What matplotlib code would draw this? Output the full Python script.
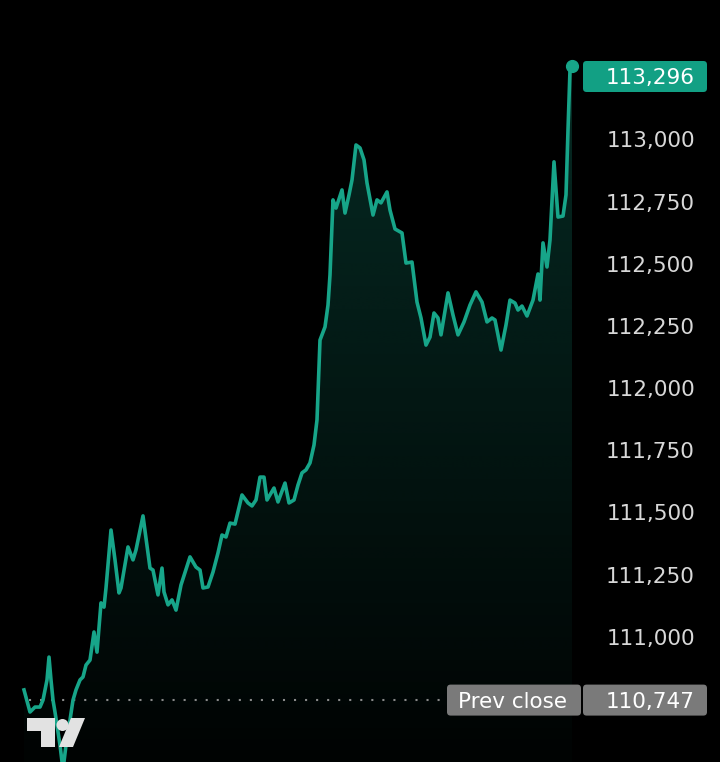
import numpy as np
import matplotlib
matplotlib.use('Agg')
import matplotlib.pyplot as plt
from matplotlib.patches import Polygon, Ellipse, FancyBboxPatch
from matplotlib.transforms import blended_transform_factory

# minutes since session start (arbitrary ticks) and price
t = [0, 6, 11, 16, 19, 23, 25, 27, 29, 31, 36, 39, 42, 46, 49, 52, 56, 59, 62, 66,
     70, 73, 77, 80, 82, 87, 91, 95, 97, 104, 109, 112, 119, 126, 129, 134, 138, 140, 144, 148,
     152, 157, 166, 172, 176, 179, 184, 189, 194, 198, 202, 206, 211, 218, 224, 228, 232, 236, 240, 243,
     250, 254, 261, 265, 270, 274, 278, 282, 286, 290, 293, 296, 301, 304, 306, 309, 312, 318, 321, 325,
     328, 332, 336, 340, 343, 349, 353, 357, 363, 366, 371, 378, 382, 388, 393, 397, 402, 406, 410, 414,
     417, 424, 429, 434, 440, 446, 452, 458, 463, 468, 471, 477, 482, 486, 491, 494, 498, 503, 509, 514,
     516, 519, 523, 526, 530, 534, 539, 542, 544, 546, 548]
price = [110788, 110699, 110719, 110719, 110747, 110828, 110920, 110828, 110747, 110699,
         110566, 110466, 110566, 110667, 110747, 110788, 110828, 110840, 110888, 110908,
         111021, 110940, 111138, 111121, 111198, 111431, 111311, 111178, 111198, 111363,
         111311, 111351, 111488, 111278, 111270, 111170, 111278, 111182, 111130, 111150,
         111109, 111210, 111323, 111282, 111270, 111198, 111202, 111262, 111339, 111411,
         111403, 111459, 111455, 111572, 111540, 111528, 111552, 111644, 111644, 111552,
         111600, 111544, 111620, 111540, 111552, 111612, 111661, 111673, 111701, 111773,
         111874, 112195, 112248, 112336, 112457, 112759, 112726, 112799, 112706, 112779,
         112839, 112980, 112968, 112920, 112827, 112698, 112759, 112747, 112791, 112718,
         112642, 112626, 112505, 112509, 112348, 112284, 112175, 112207, 112304, 112284,
         112216, 112385, 112296, 112216, 112268, 112336, 112389, 112348, 112268, 112284,
         112276, 112155, 112256, 112356, 112344, 112316, 112332, 112292, 112356, 112461,
         112356, 112586, 112489, 112598, 112912, 112690, 112694, 112779, 113040, 113282,
         113296]
prev_close = 110747
tick_values = [111000, 111250, 111500, 111750, 112000, 112250, 112500, 112750, 113000]

teal = '#17a589'
bg = 'black'
plt.rcParams['font.family'] = ['DejaVu Sans']
fs = 15.5

fig = plt.figure(figsize=(7.2, 7.62), dpi=100, facecolor=bg)
ax = fig.add_axes([0, 0, 1, 1])
ax.set_facecolor(bg)
ax.axis('off')

xmin, xmax = -24, 696
ymin, ymax = 110498, 113563
px_y = (ymax - ymin) / 762
txt_off = -1.5 * px_y

# gradient fill under the line
verts = [(t[0], ymin)] + list(zip(t, price)) + [(t[-1], ymin)]
clip = Polygon(verts, closed=True, facecolor='none', edgecolor='none')
ax.add_patch(clip)
grad = np.zeros((256, 1, 4))
grad[..., :3] = matplotlib.colors.to_rgb(teal)
grad[:, 0, 3] = np.linspace(0.02, 0.26, 256)
im = ax.imshow(grad, extent=[t[0], t[-1], ymin, max(price)], origin='lower',
               aspect='auto', zorder=1, interpolation='bilinear')
im.set_clip_path(clip)

ax.plot(t, price, color=teal, lw=2.6, zorder=3, solid_joinstyle='round')
ax.plot(t[-1], price[-1], 'o', ms=8.5, color=teal, zorder=4)

ax.set_xlim(xmin, xmax)
ax.set_ylim(ymin, ymax)

blend = blended_transform_factory(ax.transAxes, ax.transData)

# prev close dotted line
ax.plot([0.04, 0.62], [prev_close, prev_close], transform=blend, color='#8a8a8a',
        lw=1.5, linestyle=(0, (1, 4.3)), zorder=2)

# price scale labels
for v in tick_values:
    ax.text(0.9653, v + txt_off, f'{v:,}', transform=blend, ha='right', va='center',
            color='#d8d8d8', fontsize=fs, zorder=5)

aspect = px_y * 720
box_h = 31 * px_y


def label_box(x0, x1, yc, color):
    p = FancyBboxPatch((x0, yc - box_h / 2), x1 - x0, box_h, transform=blend,
                       boxstyle='round,pad=0,rounding_size=0.005',
                       mutation_aspect=aspect, facecolor=color, edgecolor='none', zorder=6)
    ax.add_patch(p)


# last price label (kept inside the top of the pane)
last_y = min(price[-1], ymax - 76.5 * px_y)
label_box(583 / 720, 707 / 720, last_y, '#12a084')
ax.text(0.9653, last_y + txt_off, f'{price[-1]:,}', transform=blend, ha='right', va='center',
        color='white', fontsize=fs, zorder=7)

# prev close label
label_box(447 / 720, 581 / 720, prev_close, '#7a7a7a')
label_box(583 / 720, 707 / 720, prev_close, '#7a7a7a')
ax.text(513 / 720, prev_close + txt_off, 'Prev close', transform=blend, ha='center', va='center',
        color='white', fontsize=fs, zorder=7)
ax.text(0.9653, prev_close + txt_off, f'{prev_close:,}', transform=blend, ha='right', va='center',
        color='white', fontsize=fs, zorder=7)

# TradingView logo
def fx(x, y):
    return (x / 720, 1 - y / 762)

logo = '#e2e2e2'
ax.add_patch(Polygon([fx(27, 718), fx(55, 718), fx(55, 747), fx(41, 747), fx(41, 731), fx(27, 731)],
                     closed=True, transform=ax.transAxes, facecolor=logo, edgecolor='none', zorder=8))
ax.add_patch(Ellipse(fx(62.5, 725), 12 / 720, 12 / 762, transform=ax.transAxes,
                     facecolor=logo, edgecolor='none', zorder=8))
ax.add_patch(Polygon([fx(71, 718), fx(85, 718), fx(73, 747), fx(59, 747)],
                     closed=True, transform=ax.transAxes, facecolor=logo, edgecolor='none', zorder=8))

fig.savefig('out.png', dpi=100, facecolor=bg)
